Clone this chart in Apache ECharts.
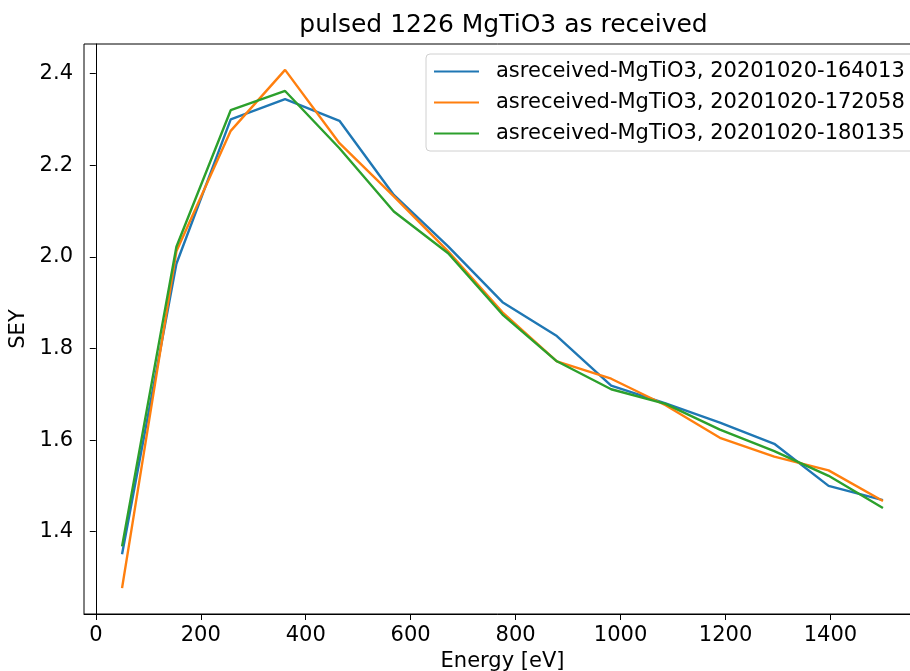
<!DOCTYPE html>
<html>
<head>
<meta charset="utf-8">
<script src="https://cdn.jsdelivr.net/npm/echarts@6/dist/echarts.min.js"></script>
<style>
html,body{margin:0;padding:0;background:#fff;}
#c{width:910px;height:671px;}
</style>
</head>
<body>
<div id="c"></div>
<script>
var energy = [50, 153.6, 257.1, 360.7, 464.3, 567.9, 671.4, 775, 878.6, 982.1, 1085.7, 1189.3, 1292.9, 1396.4, 1500];
var sey164013 = [1.351, 1.985, 2.300, 2.344, 2.297, 2.135, 2.023, 1.901, 1.827, 1.719, 1.680, 1.638, 1.592, 1.500, 1.469];
var sey172058 = [1.277, 2.012, 2.275, 2.408, 2.248, 2.132, 2.012, 1.879, 1.772, 1.734, 1.676, 1.605, 1.564, 1.534, 1.467];
var sey180135 = [1.368, 2.022, 2.320, 2.362, 2.237, 2.099, 2.008, 1.874, 1.772, 1.711, 1.679, 1.623, 1.576, 1.522, 1.452];
var seriesNames = ['asreceived-MgTiO3, 20201020-164013', 'asreceived-MgTiO3, 20201020-172058', 'asreceived-MgTiO3, 20201020-180135'];
var colors = ['#1f77b4', '#ff7f0e', '#2ca02c'];
var xTicks = [0, 200, 400, 600, 800, 1000, 1200, 1400];
var yTicks = [1.4, 1.6, 1.8, 2.0, 2.2, 2.4];

function pairs(xs, ys) { return xs.map(function (x, i) { return [x, ys[i]]; }); }
var allY = sey164013.concat(sey172058, sey180135);
var yMinD = Math.min.apply(null, allY), yMaxD = Math.max.apply(null, allY);
var yPad = (yMaxD - yMinD) * 0.05;
var xPad = (energy[energy.length - 1] - energy[0]) * 0.05;

var font = 'DejaVu Sans';
var chart = echarts.init(document.getElementById('c'));
var seriesData = [sey164013, sey172058, sey180135];
chart.setOption({
  animation: false,
  backgroundColor: '#fff',
  title: {
    text: 'pulsed 1226 MgTiO3 as received',
    left: 498.5, top: 8, textAlign: 'center',
    textStyle: { fontFamily: font, fontSize: 25, fontWeight: 'normal', color: '#000' }
  },
  legend: {
    orient: 'vertical', left: 426, top: 54,
    itemWidth: 45, itemHeight: 14, itemGap: 10,
    padding: [7, 30, 7, 7],
    borderColor: '#d0d0d0', borderWidth: 1, borderRadius: 4,
    backgroundColor: 'rgba(255,255,255,0.8)',
    itemStyle: { opacity: 0 },
    textStyle: { fontFamily: font, fontSize: 21, color: '#000', padding: [0, 0, 0, 12] },
    data: seriesNames
  },
  grid: { left: 84, width: 837, top: 44, bottom: 57, show: true, borderColor: '#000', borderWidth: 1,
    containLabel: false, outerBoundsMode: 'none' },
  xAxis: {
    type: 'value', min: energy[0] - xPad, max: energy[energy.length - 1] + xPad,
    splitLine: { show: false },
    axisLine: { lineStyle: { color: '#000', width: 1 } },
    axisTick: { show: true, length: 6, lineStyle: { color: '#000' }, customValues: xTicks },
    axisLabel: { fontFamily: font, fontSize: 21, color: '#000', margin: 11, customValues: xTicks,
      formatter: function (v) { return String(v); } },
    name: 'Energy [eV]', nameLocation: 'middle', nameGap: 37,
    nameTextStyle: { fontFamily: font, fontSize: 21, color: '#000' }
  },
  yAxis: {
    type: 'value', min: yMinD - yPad, max: yMaxD + yPad,
    splitLine: { show: false },
    axisLine: { show: true, lineStyle: { color: '#000', width: 1 } },
    axisTick: { show: true, length: 6, lineStyle: { color: '#000' }, customValues: yTicks },
    axisLabel: { fontFamily: font, fontSize: 21, color: '#000', margin: 11, customValues: yTicks,
      formatter: function (v) { return v.toFixed(1); } },
    name: 'SEY', nameLocation: 'middle', nameGap: 47, nameRotate: 90,
    nameTextStyle: { fontFamily: font, fontSize: 21, color: '#000' }
  },
  series: seriesData.map(function (d, i) {
    return {
      name: seriesNames[i], type: 'line', data: pairs(energy, d),
      symbol: 'none', color: colors[i],
      lineStyle: { width: 2.4, color: colors[i] }
    };
  })
});
</script>
</body>
</html>
